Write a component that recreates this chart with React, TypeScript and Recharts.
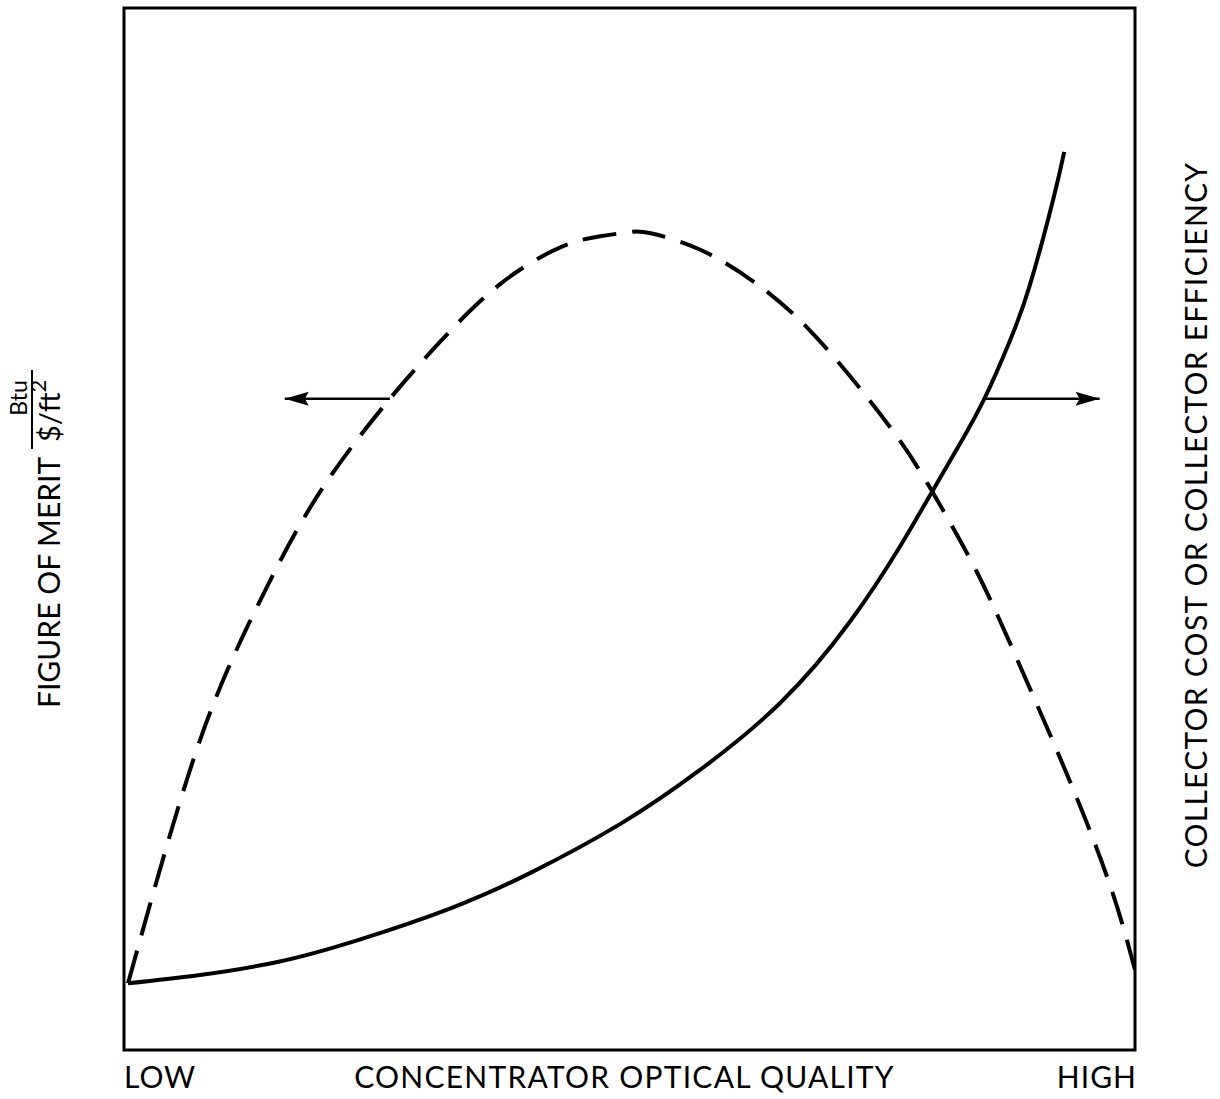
import { LineChart, Line, XAxis, YAxis, ReferenceArea } from 'recharts';

// figure of merit (dashed, read against left axis)
const meritX = [0.4, 1.6, 5.0, 9.0, 13.5, 17.4, 21.4, 26.3, 31.3, 37.2, 43.1, 47.1, 50.1, 52.0, 57.0, 62.9, 67.9, 72.8, 76.8, 79.7, 82.7, 85.7, 89.6, 93.6, 97.5, 100];
const meritY = [6.4, 10.6, 22.1, 33.6, 43.2, 50.4, 56.4, 62.5, 68.0, 73.5, 77.0, 78.1, 78.5, 78.4, 76.8, 73.3, 69.0, 63.5, 58.4, 54.0, 48.9, 43.2, 34.7, 25.7, 15.9, 7.7];

// collector cost or efficiency (solid, read against right axis)
const costX = [0.4, 7.5, 15.4, 23.3, 32.3, 40.2, 49.1, 57.0, 64.9, 71.8, 76.8, 79.7, 82.7, 85.2, 87.6, 89.6, 91.9, 93.0];
const costY = [6.4, 7.2, 8.5, 10.6, 13.6, 17.0, 21.7, 26.9, 33.3, 41.1, 48.4, 53.2, 58.2, 62.7, 68.0, 73.4, 81.6, 86.2];

// arrows pointing to each curve's axis
const leftArrowX = [26.3, 15.9];
const rightArrowX = [85.2, 96.5];
const arrowY = 62.5;

const xTicks = [0, 100];
const xTickLabels = ['LOW', 'HIGH'];

const FONT = 'Lato, "Open Sans", sans-serif';

const meritData = meritX.map((x, i) => ({ x, y: meritY[i] }));
const costData = costX.map((x, i) => ({ x, y: costY[i] }));
const leftArrow = leftArrowX.map((x) => ({ x, y: arrowY }));
const rightArrow = rightArrowX.map((x) => ({ x, y: arrowY }));

function arrowHead(dir: number) {
    return (props: any) => {
        const { cx, cy, index } = props;
        if (index !== 1) return <g key={`a${index}`} />;
        const len = 24;
        const half = 7;
        return (
            <path
                key={`a${index}`}
                d={`M${cx},${cy} L${cx - dir * len},${cy - half} L${cx - dir * (len - 4)},${cy} L${cx - dir * len},${cy + half} Z`}
                fill="#000"
            />
        );
    };
}

function XTick(props: any) {
    const { x, y, payload } = props;
    const i = xTicks.indexOf(payload.value);
    return (
        <text
            x={i === 0 ? x : x + 2}
            y={y + 30}
            textAnchor={i === 0 ? 'start' : 'end'}
            fontFamily={FONT}
            fontSize={30}
            letterSpacing={1}
            fill="#000"
        >
            {xTickLabels[i]}
        </text>
    );
}

function XTitle(props: any) {
    const { viewBox } = props;
    return (
        <text
            x={viewBox.x + viewBox.width / 2 - 5}
            y={viewBox.y + 38}
            textAnchor="middle"
            fontFamily={FONT}
            fontSize={30}
            letterSpacing={1.25}
            fill="#000"
        >
            CONCENTRATOR OPTICAL QUALITY
        </text>
    );
}

function LeftTitle(props: any) {
    const { viewBox } = props;
    const base = viewBox.x + 60;
    const bottom = viewBox.y + viewBox.height;
    return (
        <g fontFamily={FONT} fill="#000">
            <text transform="rotate(-90)" x={-(bottom - 342)} y={base} fontSize={30}>
                FIGURE OF MERIT
            </text>
            <text transform="rotate(-90)" x={-398} y={base - 33} fontSize={23} textAnchor="middle">
                Btu
            </text>
            <line x1={base - 28} x2={base - 28} y1={370} y2={449} stroke="#000" strokeWidth={2} />
            <text transform="rotate(-90)" x={-442} y={base} fontSize={29}>
                $/ft
                <tspan fontSize={22} dy={-14}>2</tspan>
            </text>
        </g>
    );
}

function RightTitle(props: any) {
    const { viewBox } = props;
    const cx = viewBox.x + 60;
    const cy = viewBox.y + viewBox.height / 2 - 14;
    return (
        <text
            transform={`rotate(-90, ${cx}, ${cy})`}
            x={cx}
            y={cy}
            textAnchor="middle"
            dominantBaseline="central"
            fontFamily={FONT}
            fontSize={30}
            letterSpacing={1.25}
            fill="#000"
        >
            COLLECTOR COST OR COLLECTOR EFFICIENCY
        </text>
    );
}

export default function App() {
    return (
        <div style={{ position: 'absolute', left: 0, top: 0, background: '#fff' }}>
            <LineChart width={1220} height={1099} margin={{ top: 8, right: 0, left: 0, bottom: 0 }}>
                <XAxis
                    dataKey="x"
                    type="number"
                    domain={[0, 100]}
                    ticks={xTicks}
                    height={49}
                    axisLine={false}
                    tickLine={false}
                    tick={<XTick />}
                    label={{ content: <XTitle /> }}
                    allowDataOverflow
                />
                <YAxis
                    yAxisId="left"
                    type="number"
                    domain={[0, 100]}
                    width={124}
                    tick={false}
                    axisLine={false}
                    tickLine={false}
                    label={{ content: <LeftTitle /> }}
                />
                <YAxis
                    yAxisId="right"
                    orientation="right"
                    type="number"
                    domain={[0, 100]}
                    width={85}
                    tick={false}
                    axisLine={false}
                    tickLine={false}
                    label={{ content: <RightTitle /> }}
                />
                <ReferenceArea
                    yAxisId="left"
                    x1={0}
                    x2={100}
                    y1={0}
                    y2={100}
                    fill="none"
                    fillOpacity={0}
                    stroke="#000"
                    strokeWidth={3}
                />
                <Line
                    yAxisId="left"
                    data={meritData}
                    dataKey="y"
                    type="natural"
                    stroke="#000"
                    strokeWidth={4}
                    strokeDasharray="34 16"
                    dot={false}
                    isAnimationActive={false}
                />
                <Line
                    yAxisId="right"
                    data={costData}
                    dataKey="y"
                    type="natural"
                    stroke="#000"
                    strokeWidth={4}
                    dot={false}
                    isAnimationActive={false}
                />
                <Line
                    yAxisId="left"
                    data={leftArrow}
                    dataKey="y"
                    type="linear"
                    stroke="#000"
                    strokeWidth={2.5}
                    dot={arrowHead(-1)}
                    isAnimationActive={false}
                />
                <Line
                    yAxisId="right"
                    data={rightArrow}
                    dataKey="y"
                    type="linear"
                    stroke="#000"
                    strokeWidth={2.5}
                    dot={arrowHead(1)}
                    isAnimationActive={false}
                />
            </LineChart>
        </div>
    );
}
